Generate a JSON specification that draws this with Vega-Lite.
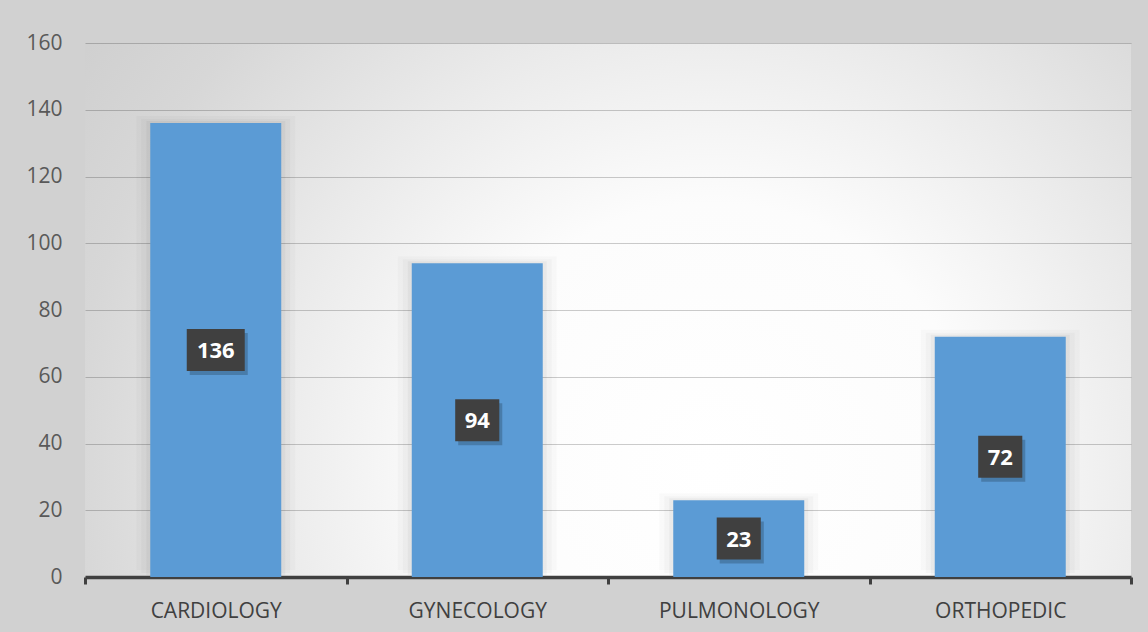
{
  "$schema": "https://vega.github.io/schema/vega-lite/v6.json",
  "width": 1046,
  "height": 534,
  "autosize": "none",
  "padding": {"left": 85, "top": 43, "right": 17, "bottom": 55},
  "background": "#d1d1d1",
  "view": {
    "stroke": null,
    "fill": {
      "gradient": "radial",
      "x1": 0.6, "y1": 0.65, "x2": 0.6, "y2": 0.65,
      "r1": 0, "r2": 0.72,
      "stops": [
        {"offset": 0, "color": "#ffffff"},
        {"offset": 0.35, "color": "#fcfcfc"},
        {"offset": 0.6, "color": "#eaeaea"},
        {"offset": 0.85, "color": "#d7d7d7"},
        {"offset": 1, "color": "#d0d0d0"}
      ]
    }
  },
  "config": {
    "font": "Open Sans",
    "axis": {"labelFont": "Open Sans", "titleFont": "Open Sans"},
    "axisY": {
      "domain": false,
      "ticks": false,
      "labelFontSize": 21,
      "labelColor": "#595959",
      "labelPadding": 23,
      "gridColor": "#000000",
      "gridOpacity": 0.2,
      "gridWidth": 1.2
    }
  },
  "data": {
    "values": [
      {"department": "CARDIOLOGY", "patients": 136},
      {"department": "GYNECOLOGY", "patients": 94},
      {"department": "PULMONOLOGY", "patients": 23},
      {"department": "ORTHOPEDIC", "patients": 72}
    ]
  },
  "transform": [{"calculate": "datum.patients / 2", "as": "mid"}],
  "encoding": {
    "x": {
      "field": "department",
      "type": "nominal",
      "sort": null,
      "scale": {"paddingInner": 0, "paddingOuter": 0},
      "axis": {
        "title": null,
        "labelAngle": 0,
        "labelFontSize": 21,
        "labelColor": "#404040",
        "labelPadding": 16,
        "domainColor": "#404040",
        "domainWidth": 3.5,
        "ticks": true,
        "tickBand": "extent",
        "tickColor": "#404040",
        "tickWidth": 3,
        "tickSize": 7,
        "grid": false
      }
    }
  },
  "layer": [
    {
      "mark": {"type": "bar", "width": 159, "color": "#000000", "opacity": 0.02, "yOffset": -7},
      "encoding": {
        "y": {
          "field": "patients",
          "type": "quantitative",
          "scale": {"domain": [0, 160], "nice": false},
          "axis": {"title": null, "values": [0, 20, 40, 60, 80, 100, 120, 140, 160]}
        }
      }
    },
    {
      "mark": {"type": "bar", "width": 149, "color": "#000000", "opacity": 0.025, "yOffset": -4},
      "encoding": {"y": {"field": "patients", "type": "quantitative", "axis": {"title": null, "values": [0, 20, 40, 60, 80, 100, 120, 140, 160]}}}
    },
    {
      "mark": {"type": "bar", "width": 139, "color": "#000000", "opacity": 0.035, "yOffset": -2},
      "encoding": {"y": {"field": "patients", "type": "quantitative", "axis": {"title": null, "values": [0, 20, 40, 60, 80, 100, 120, 140, 160]}}}
    },
    {
      "mark": {"type": "bar", "width": 131, "color": "#5b9bd5"},
      "encoding": {"y": {"field": "patients", "type": "quantitative", "axis": {"title": null, "values": [0, 20, 40, 60, 80, 100, 120, 140, 160]}}}
    },
    {
      "mark": {"type": "point", "filled": true, "size": 3364, "color": "#000000", "opacity": 0.2, "xOffset": 3, "yOffset": 4},
      "encoding": {
        "y": {"field": "mid", "type": "quantitative", "axis": {"title": null, "values": [0, 20, 40, 60, 80, 100, 120, 140, 160]}},
        "shape": {
          "condition": {"test": "datum.patients >= 100", "value": "M-1,-0.724L1,-0.724L1,0.724L-1,0.724Z"},
          "value": "M-0.76,-0.724L0.76,-0.724L0.76,0.724L-0.76,0.724Z"
        }
      }
    },
    {
      "mark": {"type": "point", "filled": true, "size": 3364, "color": "#404040", "opacity": 1},
      "encoding": {
        "y": {"field": "mid", "type": "quantitative", "axis": {"title": null, "values": [0, 20, 40, 60, 80, 100, 120, 140, 160]}},
        "shape": {
          "condition": {"test": "datum.patients >= 100", "value": "M-1,-0.724L1,-0.724L1,0.724L-1,0.724Z"},
          "value": "M-0.76,-0.724L0.76,-0.724L0.76,0.724L-0.76,0.724Z"
        }
      }
    },
    {
      "mark": {"type": "text", "color": "#ffffff", "fontSize": 22, "fontWeight": "bold", "font": "Open Sans", "baseline": "middle", "dy": 1},
      "encoding": {
        "y": {"field": "mid", "type": "quantitative", "axis": {"title": null, "values": [0, 20, 40, 60, 80, 100, 120, 140, 160]}},
        "text": {"field": "patients", "type": "quantitative"}
      }
    }
  ]
}
